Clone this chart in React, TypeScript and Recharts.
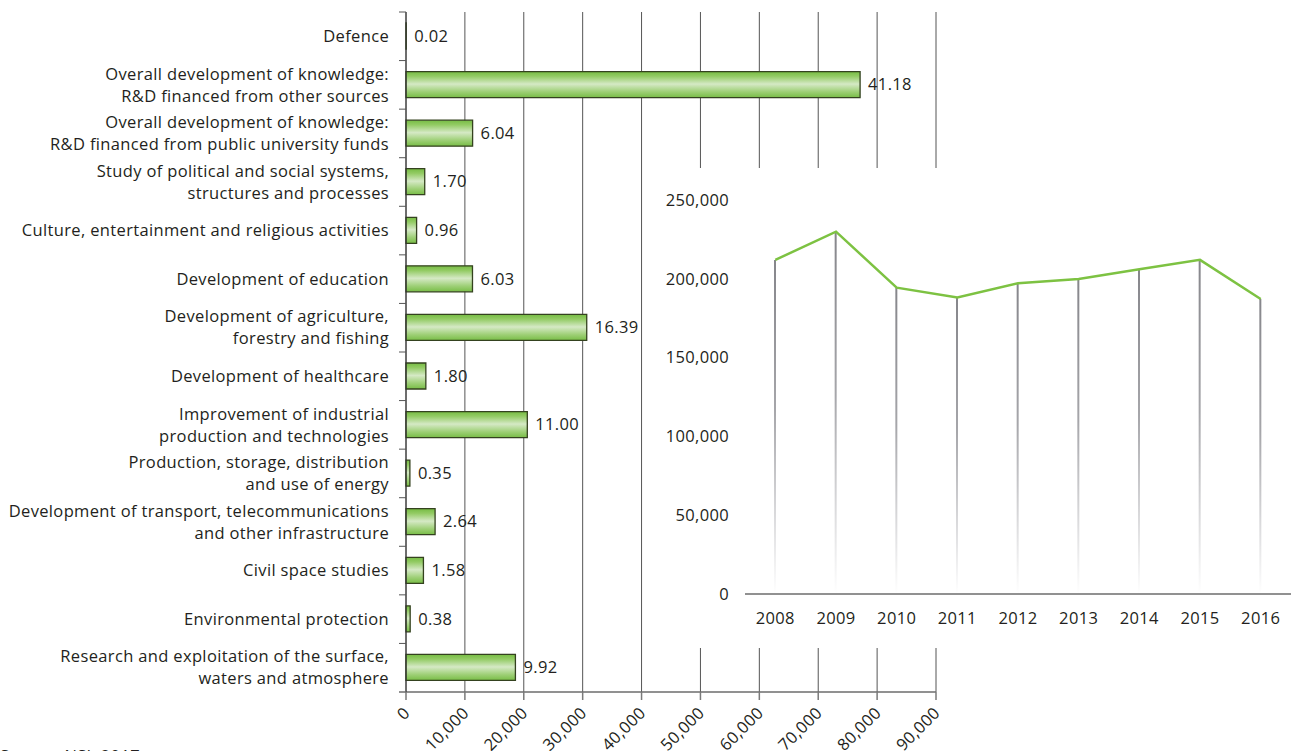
import React from 'react';
import {
  BarChart,
  Bar,
  XAxis,
  YAxis,
  CartesianGrid,
  LabelList,
  ComposedChart,
  Line,
} from 'recharts';

// R&D spending by socio-economic objective (2016), thousand BGN, with share in %
const categories = [
  'Defence',
  'Overall development of knowledge:\nR&D financed from other sources',
  'Overall development of knowledge:\nR&D financed from public university funds',
  'Study of political and social systems,\nstructures and processes',
  'Culture, entertainment and religious activities',
  'Development of education',
  'Development of agriculture,\nforestry and fishing',
  'Development of healthcare',
  'Improvement of industrial\nproduction and technologies',
  'Production, storage, distribution\nand use of energy',
  'Development of transport, telecommunications\nand other infrastructure',
  'Civil space studies',
  'Environmental protection',
  'Research and exploitation of the surface,\nwaters and atmosphere',
];
const spending = [37, 77110, 11310, 3180, 1800, 11290, 30690, 3370, 20600, 660, 4940, 2960, 710, 18580];
const shares = ['0.02', '41.18', '6.04', '1.70', '0.96', '6.03', '16.39', '1.80', '11.00', '0.35', '2.64', '1.58', '0.38', '9.92'];
const spendingTicks = [0, 10000, 20000, 30000, 40000, 50000, 60000, 70000, 80000, 90000];

// total R&D spending by year
const years = ['2008', '2009', '2010', '2011', '2012', '2013', '2014', '2015', '2016'];
const totals = [212000, 229900, 194400, 188100, 197200, 199900, 206100, 212000, 187200];
const totalTicks = [0, 50000, 100000, 150000, 200000, 250000];

const FONT = '"Open Sans", sans-serif';
const FS = 16.5;
const LS = 0.35;
const TEXT = '#231f20';
const AXIS_X = 406;
const PLOT_TOP = 12;
const PLOT_H = 680;
const BAND = PLOT_H / categories.length;

const barData = categories.map((name, i) => ({ name, value: spending[i], share: shares[i] }));
const lineData = years.map((year, i) => ({ year, total: totals[i] }));

const fmt = (v: number) => v.toLocaleString('en-US');

function CategoryTick(props: any) {
  const { y, payload, index } = props;
  const lines = String(payload.value).split('\n');
  const top = y - BAND / 2;
  return (
    <g>
      <line x1={AXIS_X - 7} x2={AXIS_X} y1={top} y2={top} stroke="#555" />
      {index === categories.length - 1 && (
        <line x1={AXIS_X - 7} x2={AXIS_X} y1={y + BAND / 2} y2={y + BAND / 2} stroke="#6d6d6d" strokeWidth={1.5} />
      )}
      <text
        x={AXIS_X - 17}
        y={y}
        textAnchor="end"
        fontFamily={FONT}
        fontSize={FS}
        letterSpacing={LS}
        fill={TEXT}
      >
        {lines.map((l, i) => (
          <tspan key={i} x={AXIS_X - 17} y={y + (i - (lines.length - 1) / 2) * 22} dy="0.35em">
            {l}
          </tspan>
        ))}
      </text>
    </g>
  );
}

function SpendingTick(props: any) {
  const { x, y, payload } = props;
  const tx = x + 5;
  const ty = y + 12;
  return (
    <text
      x={tx}
      y={ty}
      transform={`rotate(-45 ${tx} ${ty})`}
      textAnchor="end"
      fontFamily={FONT}
      fontSize={FS}
      letterSpacing={LS}
      fill={TEXT}
    >
      {fmt(payload.value)}
    </text>
  );
}

function ShareLabel(props: any) {
  const { x, y, width, height, value } = props;
  return (
    <text
      x={x + width + 8}
      y={y + height / 2}
      dy="0.35em"
      fontFamily={FONT}
      fontSize={FS}
      letterSpacing={LS}
      fill={TEXT}
    >
      {value}
    </text>
  );
}

const tickStyle = { fontFamily: FONT, fontSize: FS, fill: TEXT, letterSpacing: LS };

export default function App() {
  return (
    <div style={{ position: 'absolute', left: 0, top: 0, width: 1291, height: 751, overflow: 'hidden', background: '#fff' }}>
      <BarChart
        width={1000}
        height={752}
        data={barData}
        layout="vertical"
        margin={{ top: PLOT_TOP, right: 64, bottom: 0, left: 0 }}
      >
        <defs>
          <linearGradient id="barFill" x1="0" y1="0" x2="0" y2="1">
            <stop offset="0" stopColor="#76bc43" />
            <stop offset="0.18" stopColor="#93cb64" />
            <stop offset="0.48" stopColor="#d5e9c5" />
            <stop offset="0.78" stopColor="#9dcf75" />
            <stop offset="1" stopColor="#78bd46" />
          </linearGradient>
        </defs>
        <CartesianGrid horizontal={false} stroke="#555" />
        <XAxis
          type="number"
          domain={[0, 90000]}
          ticks={spendingTicks}
          interval={0}
          height={60}
          axisLine={{ stroke: '#6d6d6d', strokeWidth: 1.5 }}
          tickLine={{ stroke: '#7a7a7a', strokeWidth: 1.5 }}
          tickSize={8}
          tick={<SpendingTick />}
        />
        <YAxis
          type="category"
          dataKey="name"
          width={AXIS_X}
          interval={0}
          axisLine={{ stroke: '#333' }}
          tickLine={false}
          tick={<CategoryTick />}
        />
        <Bar
          dataKey="value"
          barSize={26}
          fill="url(#barFill)"
          stroke="#34421f"
          strokeWidth={1.3}
          isAnimationActive={false}
        >
          <LabelList dataKey="share" content={<ShareLabel />} />
        </Bar>
      </BarChart>

      <div style={{ position: 'absolute', left: 650, top: 168, width: 641, height: 480, background: '#fff' }}>
        <ComposedChart width={641} height={480} data={lineData} margin={{ top: 32, right: 0, bottom: 24, left: 0 }}>
          <defs>
            <linearGradient id="dropFill" x1="0" y1="0" x2="0" y2="1">
              <stop offset="0" stopColor="#86868b" />
              <stop offset="0.45" stopColor="#a6a6aa" />
              <stop offset="0.75" stopColor="#d8d8da" />
              <stop offset="1" stopColor="#ffffff" />
            </linearGradient>
          </defs>
          <XAxis
            dataKey="year"
            height={30}
            axisLine={{ stroke: '#6d6d6d', strokeWidth: 1.5 }}
            tickLine={false}
            tickSize={0}
            tickMargin={18}
            tick={tickStyle}
          />
          <YAxis
            domain={[0, 250000]}
            ticks={totalTicks}
            width={95}
            axisLine={false}
            tickLine={false}
            tickSize={0}
            tickMargin={16}
            tickFormatter={fmt}
            tick={tickStyle}
          />
          <Bar dataKey="total" barSize={2} fill="url(#dropFill)" isAnimationActive={false} />
          <Line
            type="linear"
            dataKey="total"
            stroke="#7dc242"
            strokeWidth={2.5}
            dot={false}
            isAnimationActive={false}
          />
        </ComposedChart>
      </div>

      <div
        style={{
          position: 'absolute',
          left: 0,
          top: 744,
          fontFamily: FONT,
          fontSize: FS,
          letterSpacing: LS,
          color: TEXT,
          whiteSpace: 'nowrap',
        }}
      >
        Source: NSI, 2017
      </div>
    </div>
  );
}
